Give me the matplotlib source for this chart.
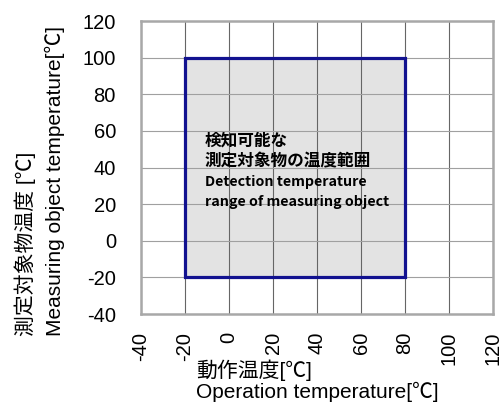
import matplotlib.pyplot as plt
from matplotlib.patches import Rectangle

plt.rcParams['font.family'] = ['Liberation Sans', 'Noto Sans CJK JP', 'DejaVu Sans']

# Axis ranges and ticks.
x_ticks = [-40, -20, 0, 20, 40, 60, 80, 100, 120]
y_ticks = [-40, -20, 0, 20, 40, 60, 80, 100, 120]

# Detection range: operation temperature vs measuring object temperature.
op_range = [-20, 80]
obj_range = [-20, 100]

x_label = ['動作温度[℃]', 'Operation temperature[℃]']
y_label = ['測定対象物温度 [℃]', 'Measuring object temperature[℃]']
note_jp = ['検知可能な', '測定対象物の温度範囲']
note_en = ['Detection temperature', 'range of measuring object']


fig = plt.figure(figsize=(4.99, 4.05), dpi=100)
ax = fig.add_axes([141 / 499, 1 - 314 / 405, 352 / 499, 293 / 405])

ax.set_xlim(x_ticks[0], x_ticks[-1])
ax.set_ylim(y_ticks[0], y_ticks[-1])
ax.set_xticks(x_ticks)
ax.set_yticks(y_ticks)
ax.set_xticklabels([str(v) for v in x_ticks], rotation=90, fontsize=14.5)
ax.set_yticklabels([str(v) for v in y_ticks], fontsize=14.5)
ax.tick_params(axis='y', length=0, pad=18)
ax.tick_params(axis='x', length=0, pad=13)

ax.set_axisbelow('line')
ax.grid(True, axis='x', color='#666666', lw=0.8)
ax.grid(True, axis='y', color='#a0a0a0', lw=0.8)
for side in ax.spines:
    ax.spines[side].set_color('#a8a8a8')
    ax.spines[side].set_linewidth(1.8)

w = op_range[1] - op_range[0]
h = obj_range[1] - obj_range[0]
# Fill under the grid, outline above it.
ax.add_patch(Rectangle((op_range[0], obj_range[0]), w, h,
                       facecolor='#e3e3e3', edgecolor='none', zorder=1))
ax.add_patch(Rectangle((op_range[0], obj_range[0]), w, h,
                       facecolor='none', edgecolor='#121290', lw=2.3, zorder=2))

note_y = [54.5, 43.5, 32.1, 21.2]
for txt, y in zip(note_jp, note_y[:2]):
    ax.text(-11, y, txt, fontsize=12, fontweight='bold', va='center',
            family=['Noto Sans CJK JP'])
for txt, y in zip(note_en, note_y[2:]):
    ax.text(-11, y, txt, fontsize=10.3, fontweight='bold', va='center',
            family=['Noto Sans CJK JP'])

for txt, py in zip(x_label, [370, 392]):
    fig.text(196 / 499, 1 - py / 405, txt, fontsize=15, ha='left', va='center')
for txt, px in zip(y_label, [25, 55]):
    fig.text(px / 499, 1 - 336 / 405, txt, fontsize=15, ha='center',
             va='bottom', rotation=90)

fig.savefig('out.png', dpi=100)
